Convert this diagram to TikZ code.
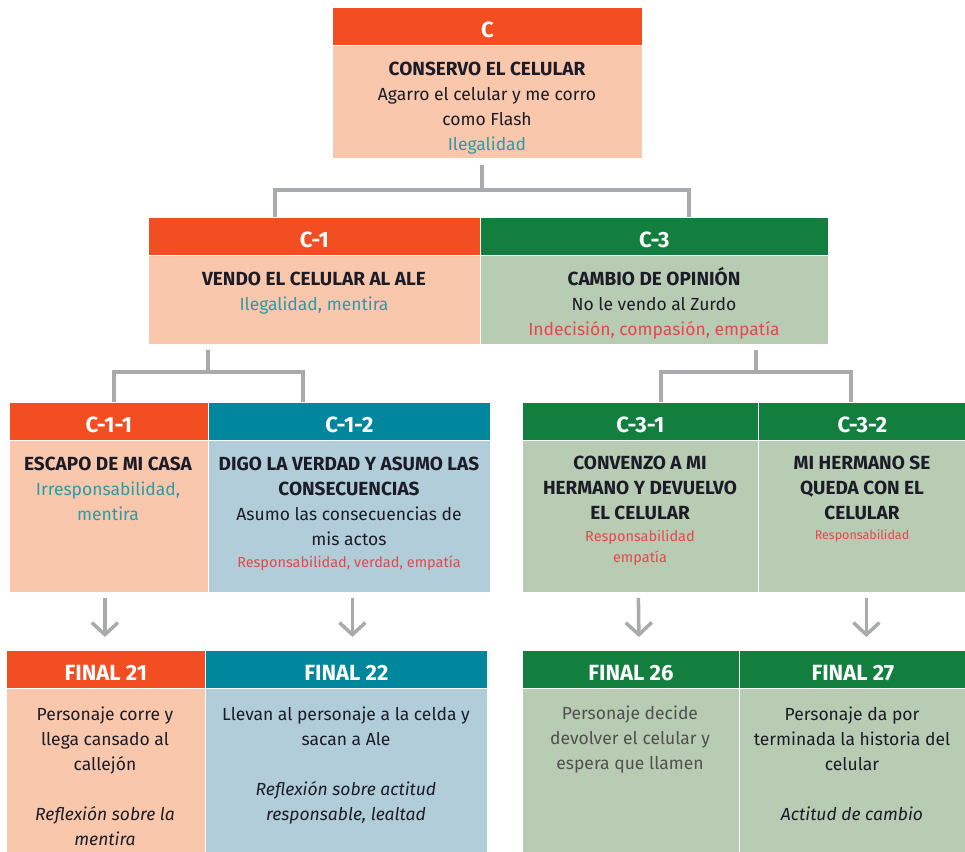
\documentclass[tikz,border=0pt]{standalone}
\usepackage{fontspec}
\setmainfont{Fira Sans}
\usetikzlibrary{arrows.meta}

\definecolor{naranja}{HTML}{F24E22}
\definecolor{naranjaclaro}{HTML}{F9C7AB}
\definecolor{verde}{HTML}{137F3F}
\definecolor{verdeclaro}{HTML}{B7CCB3}
\definecolor{azul}{HTML}{00879E}
\definecolor{azulclaro}{HTML}{B0CDD9}
\definecolor{gris}{HTML}{A9AAAE}
\definecolor{turquesa}{HTML}{2F9AA8}
\definecolor{rojo}{HTML}{E5484D}
\definecolor{tinta}{HTML}{1C1C28}
\definecolor{grisoscuro}{HTML}{505050}

\newcommand{\tit}[1]{{\fontsize{19}{25}\selectfont\bfseries #1}}
\newcommand{\valor}[2]{{\fontsize{#1}{20}\selectfont\color{rojo}#2}}

\begin{document}
\begin{tikzpicture}[x=1pt, y=-1pt,
    caja/.style={draw=white, line width=0.8pt, inner sep=0pt, anchor=north west},
    cab/.style={caja, minimum height=38pt, text=white, text height=22.5pt, text depth=0pt,
      font=\bfseries\fontsize{22}{24}\selectfont},
    txt/.style={align=center, inner sep=0pt, anchor=base, text=tinta, font=\fontsize{17.5}{25}\selectfont},
    bus/.style={gris, line width=4pt},
    flecha/.style={gris, line width=3.5pt, -{Straight Barb[length=12pt, width=26pt]}}]
    \clip (0,0) rectangle (965,851);

    % Nivel 1
    \node[cab, fill=naranja, minimum width=310pt] (ch) at (332,7) {C};
    \node[caja, fill=naranjaclaro, minimum width=310pt, minimum height=113pt] (cb) at (332,45) {};
    \node[txt] (ct) at (487,150) {\tit{CONSERVO EL CELULAR}\\Agarro el celular y me corro\\como Flash\\\textcolor{turquesa}{Ilegalidad}};

    % Nivel 2
    \node[cab, fill=naranja, minimum width=332pt] (c1h) at (148,217) {C-1};
    \node[caja, fill=naranjaclaro, minimum width=332pt, minimum height=89pt] (c1b) at (148,255) {};
    \node[txt] (c1t) at (314,310) {\tit{VENDO EL CELULAR AL ALE}\\\textcolor{turquesa}{Ilegalidad, mentira}};

    \node[cab, fill=verde, minimum width=348pt] (c3h) at (480,217) {C-3};
    \node[caja, fill=verdeclaro, minimum width=348pt, minimum height=89pt] (c3b) at (480,255) {};
    \node[txt] (c3t) at (654,335) {\tit{CAMBIO DE OPINIÓN}\\No le vendo al Zurdo\\\textcolor{rojo}{Indecisión, compasión, empatía}};

    % Nivel 3
    \node[cab, fill=naranja, minimum width=199pt] (c11h) at (9,402) {C-1-1};
    \node[caja, fill=naranjaclaro, minimum width=199pt, minimum height=152pt] (c11b) at (9,440) {};
    \node[txt] (c11t) at (108,520) {\tit{ESCAPO DE MI CASA}\\\textcolor{turquesa}{Irresponsabilidad,}\\\textcolor{turquesa}{mentira}};

    \node[cab, fill=azul, minimum width=282pt] (c12h) at (208,402) {C-1-2};
    \node[caja, fill=azulclaro, minimum width=282pt, minimum height=152pt] (c12b) at (208,440) {};
    \node[txt] (c12t) at (349,567) {\tit{DIGO LA VERDAD Y ASUMO LAS}\\\tit{CONSECUENCIAS}\\Asumo las consecuencias de\\mis actos\\[-3pt]
      \valor{14.5}{Responsabilidad, verdad, empatía}};

    \node[cab, fill=verde, minimum width=236pt] (c31h) at (522,402) {C-3-1};
    \node[caja, fill=verdeclaro, minimum width=236pt, minimum height=152pt] (c31b) at (522,440) {};
    \node[txt] (c31t) at (640,562) {\tit{CONVENZO A MI}\\\tit{HERMANO Y DEVUELVO}\\\tit{EL CELULAR}\\[-3pt]
      \valor{14.5}{Responsabilidad}\\[-4pt]\valor{14.5}{empatía}};

    \node[cab, fill=verde, minimum width=208pt] (c32h) at (758,402) {C-3-2};
    \node[caja, fill=verdeclaro, minimum width=208pt, minimum height=152pt] (c32b) at (758,440) {};
    \node[txt] (c32t) at (862,539) {\tit{MI HERMANO SE}\\\tit{QUEDA CON EL}\\\tit{CELULAR}\\[-5pt]
      \valor{12.5}{Responsabilidad}};

    % Finales
    \node[cab, fill=naranja, minimum width=199pt] (f21h) at (6,650) {FINAL 21};
    \node[caja, fill=naranjaclaro, minimum width=199pt, minimum height=170pt] (f21b) at (6,688) {};
    \node[txt] (f21t) at (105,845) {Personaje corre y\\llega cansado al\\callejón\\[25pt]\textit{Reflexión sobre la}\\\textit{mentira}};

    \node[cab, fill=azul, minimum width=282pt] (f22h) at (205,650) {FINAL 22};
    \node[caja, fill=azulclaro, minimum width=282pt, minimum height=170pt] (f22b) at (205,688) {};
    \node[txt] (f22t) at (346,820) {Llevan al personaje a la celda y\\sacan a Ale\\[25pt]\textit{Reflexión sobre actitud}\\\textit{responsable, lealtad}};

    \node[cab, fill=verde, minimum width=217pt] (f26h) at (522,650) {FINAL 26};
    \node[caja, fill=verdeclaro, minimum width=217pt, minimum height=170pt] (f26b) at (522,688) {};
    \node[txt, text=grisoscuro] (f26t) at (630,769) {Personaje decide\\devolver el celular y\\espera que llamen};

    \node[cab, fill=verde, minimum width=227pt] (f27h) at (739,650) {FINAL 27};
    \node[caja, fill=verdeclaro, minimum width=227pt, minimum height=170pt] (f27b) at (739,688) {};
    \node[txt] (f27t) at (852,820) {Personaje da por\\terminada la historia del\\celular\\[25pt]\textit{Actitud de cambio}};

    % Conectores
    \coordinate (j0) at (482,190);
    \coordinate (j1) at (208,372);
    \coordinate (j3) at (756,372);
    \draw[bus] ([yshift=-6pt]cb.south -| j0) -- (j0);
    \draw[bus] ([xshift=-39pt]c1h.north) |- (j0) -| ([xshift=35pt]c3h.north);
    \draw[bus] ([yshift=-5pt]c1b.south -| j1) -- (j1);
    \draw[bus] ([xshift=5pt]c11h.north) |- (j1) -| ([xshift=-46pt]c12h.north);
    \draw[bus] ([yshift=-5pt]c3b.south -| j3) -- (j3);
    \draw[bus] ([xshift=21pt]c31h.north) |- (j3) -| ([xshift=-11pt]c32h.north);

    % Flechas
    \draw[flecha] ([xshift=-4pt, yshift=-5pt]c11b.south) -- ([xshift=-1pt, yshift=13pt]f21h.north);
    \draw[flecha] ([xshift=3pt, yshift=-5pt]c12b.south) -- ([xshift=6pt, yshift=13pt]f22h.north);
    \draw[flecha] ([xshift=-2pt, yshift=-5pt]c31b.south) -- ([xshift=8pt, yshift=13pt]f26h.north);
    \draw[flecha] ([xshift=4pt, yshift=-5pt]c32b.south) -- ([xshift=13.5pt, yshift=13pt]f27h.north);
\end{tikzpicture}
\end{document}
